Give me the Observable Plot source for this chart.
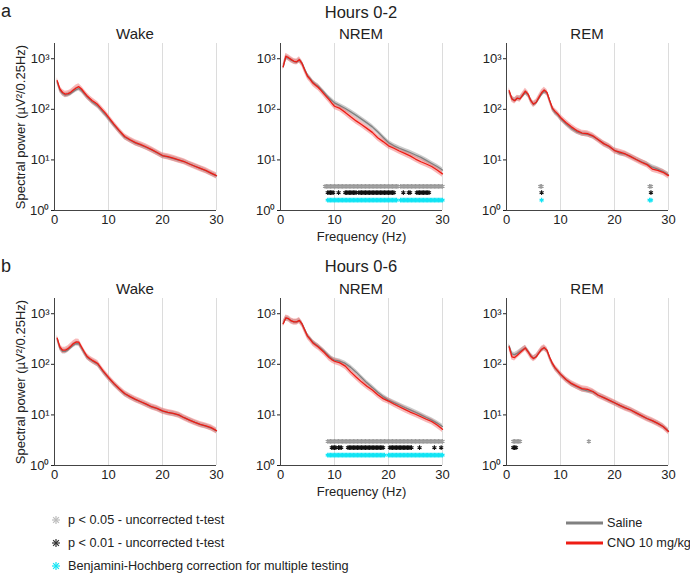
<!DOCTYPE html>
<html>
<head>
<meta charset="utf-8">
<script src="https://cdn.jsdelivr.net/npm/d3@7"></script>
<script src="https://cdn.jsdelivr.net/npm/@observablehq/plot@0.6"></script>
<style>
  body { margin: 0; background: white; font-family: "Liberation Sans", Arial, sans-serif; color: #222; }
  #fig { position: relative; width: 690px; height: 574px; overflow: hidden; }
  .abs { position: absolute; white-space: nowrap; line-height: 1; }
  .ctr { transform: translate(-50%, -50%); }
  .leg { position: absolute; font-size: 12.7px; display: flex; align-items: center; white-space: nowrap; }
</style>
</head>
<body>
<div id="fig"></div>
<script>
// ---------- data ----------
const freqHz = [0.5,1,1.5,2,2.5,3,3.5,4,4.5,5,5.5,6,6.5,7,7.5,8,8.5,9,9.5,10,
  11,12,13,14,15,16,17,18,19,20,21,22,23,24,25,26,27,28,29,30];

// Hours 0-2
const wake02Saline = [350,240,205,190,195,205,225,245,258,235,205,178,158,140,128,116,102,88,77,66,
  49,37,28,24.5,21.5,19.5,17.6,15.7,13.8,12,11.4,10.6,9.9,9.2,8.3,7.5,6.8,6.1,5.4,4.8];
const wake02CNO = [370,252,215,200,205,217,240,264,280,252,215,186,165,148,136,124,108,94,82,70,
  51,38,29,25,22,20,18,16,14,12.2,11.6,10.8,10,9.3,8.3,7.5,6.8,6.2,5.5,4.9];
const nrem02Saline = [700,1080,1020,940,880,860,930,820,610,470,405,345,310,285,250,220,190,168,150,134,
  118,104,89,76,64,54,45,36,28,22,19,17,15.4,14,12.5,11.2,9.8,8.5,7.4,6.3];
const nrem02CNO = [690,1120,1050,960,890,870,960,800,590,450,390,330,298,270,237,205,178,155,133,115,
  104,87,71,59,50,42,35,27.5,23,19,17,15,13.5,12,10.4,9.2,8.3,7.4,6.3,5.3];
const rem02Saline = [220,165,150,165,165,185,215,195,150,125,135,165,200,225,210,150,102,86,77,66,
  52,42,36,33,32,29,25,21,18.3,15.5,13.5,13,11.7,10.3,9.2,8.3,7.2,6.6,5.9,5.1];
const rem02CNO = [234,160,148,167,160,192,228,200,148,127,138,172,213,240,215,148,106,91,81,69,
  55,45,38,34,33,30,25,21,18.6,15.3,14.2,13.1,11.6,10.2,9,8.1,6.6,6.2,5.7,4.9];

// Hours 0-6
const wake06Saline = [320,210,180,180,193,215,240,258,255,210,170,140,126,116,108,100,85,72,62,54,
  41,32.5,26,22.7,20,18,16.1,14.3,13.3,11.9,11.1,10.6,9.9,8.8,7.9,7.1,6.4,6,5.5,4.8];
const wake06CNO = [330,220,190,190,204,228,257,277,275,220,177,145,130,120,112,104,88,74,64,55,
  42,33,26.5,23,20.3,18.2,16.3,14.5,13.5,12,11.2,10.7,10,8.8,7.9,7.1,6.5,6.1,5.6,4.9];
const nrem06Saline = [650,820,790,720,690,690,730,630,480,370,320,275,250,228,205,185,163,145,130,121,
  115,104,87,70,55,43,35,28,23,19.6,17.5,15.7,14,12.6,11.3,10,8.9,7.9,6.9,5.9];
const nrem06CNO = [635,830,800,720,690,690,740,620,470,360,310,265,240,220,197,176,155,136,124,115,
  107,92,71,56,45,37,31,25,21,18.8,16.4,14.5,12.9,11.4,10.3,9.2,8.2,7.4,6.3,5.2];
const rem06Saline = [230,160,155,165,180,195,212,180,150,132,142,168,195,210,188,135,103,84,73,63,
  50,41,36,32,30,28.5,24.5,22,19.4,17.3,15.3,13.8,12.5,11,9.6,8.5,7.6,6.8,5.9,4.8];
const rem06CNO = [220,141,136,151,169,190,210,177,145,130,141,169,199,214,190,136,104,85,74,64,
  50,42,37,33,32,29,24.5,22,19.6,17.4,15.4,13.8,12.5,11,9.7,8.5,7.7,6.8,5.9,4.7];

// relative SEM (fraction of mean) for the shaded bands
const semSaline = 0.11;
const semCNO = 0.14;

// significant 0.25 Hz bins, as [first, last] frequency ranges
const nrem02P05 = [[8.25,21.75],[22.25,30]];
const nrem02P01 = [[8.75,9.75],[10.75,10.75],[12,14],[14.5,21],[22.75,22.75],[23.75,24],[25.25,27.5]];
const nrem02BH  = [[8.75,21.5],[22.25,30]];
const rem02P05 = [[6.25,6.5],[26.5,26.75]];
const rem02P01 = [[6.5,6.5],[26.75,26.75]];
const rem02BH  = [[6.5,6.5],[26.5,26.75]];
const nrem06P05 = [[8.75,30]];
const nrem06P01 = [[9.5,10.25],[10.75,11.25],[12.5,19],[20.25,24.25],[25.75,25.75],[28.5,28.5],[29.75,29.75]];
const nrem06BH  = [[8.75,19.25],[20,30]];
const rem06P05 = [[1.25,2.5],[15.25,15.25]];
const rem06P01 = [[1.25,1.75]];
const rem06BH  = [];

// marker row levels (y value)
const rowP05 = 3, rowP01 = 2.25, rowBH = 1.6;

const yTicks = [1, 10, 100, 1000];
const xTicks = [0, 10, 20, 30];

// ---------- drawing ----------
const colSaline = "#808080", colCNO = "#ee1c14";
const bandSaline = "#a0a0a0", bandCNO = "#f27272";
const colP05 = "#9a9a9a", colP01 = "#111111", colBH = "#12e4f4";
const sup = {0: "\u2070", 1: "\u00b9", 2: "\u00b2", 3: "\u00b3"};
const FONT = "'Liberation Sans', Arial, sans-serif";

function bins(ranges) {
  const out = [];
  for (const [a, b] of ranges) for (let f = a; f <= b + 1e-9; f += 0.25) out.push(f);
  return out;
}

const fig = document.getElementById("fig");

function panel({sal, cno, p05 = [], p01 = [], bh = [], ylabel = false, xlabel = false, left, top}) {
  const rows = freqHz.map((f, i) => ({f, sal: sal[i], cno: cno[i]}));
  const plot = Plot.plot({
    width: 219, height: 212,
    marginLeft: 45, marginTop: 10, marginRight: 12, marginBottom: 35,
    style: {fontSize: "13px", fontFamily: FONT, color: "#222", background: "transparent", overflow: "visible"},
    x: {domain: [0, 30], ticks: xTicks, tickSize: 0, tickPadding: 4,
        label: xlabel ? "Frequency (Hz)" : null, labelAnchor: "center", labelArrow: "none", labelOffset: 30},
    y: {type: "log", domain: [1, 2000], ticks: yTicks, tickSize: 3, tickPadding: 2,
        tickFormat: d => "10" + sup[Math.round(Math.log10(d))],
        label: ylabel ? "Spectral power (\u00b5V\u00b2/0.25Hz)" : null, labelAnchor: "center", labelArrow: "none", labelOffset: 39},
    marks: [
      Plot.ruleX([10, 20, 30], {stroke: "#dcdcdc", strokeWidth: 1}),
      Plot.areaY(rows, {x: "f", y1: d => d.sal * (1 - semSaline), y2: d => d.sal * (1 + semSaline), fill: bandSaline, fillOpacity: 0.55}),
      Plot.areaY(rows, {x: "f", y1: d => d.cno * (1 - semCNO), y2: d => d.cno * (1 + semCNO), fill: bandCNO, fillOpacity: 0.5}),
      Plot.lineY(rows, {x: "f", y: "sal", stroke: colSaline, strokeWidth: 1.3}),
      Plot.lineY(rows, {x: "f", y: "cno", stroke: colCNO, strokeWidth: 1.3}),
      Plot.dot(bins(p05), {x: d => d, y: rowP05, symbol: "asterisk", r: 2.2, stroke: colP05, strokeWidth: 1.1}),
      Plot.dot(bins(p01), {x: d => d, y: rowP01, symbol: "asterisk", r: 2.2, stroke: colP01, strokeWidth: 1.1}),
      Plot.dot(bins(bh), {x: d => d, y: rowBH, symbol: "asterisk", r: 2.2, stroke: colBH, strokeWidth: 1.2}),
      Plot.ruleX([0], {stroke: "#444", strokeWidth: 1}),
      Plot.ruleY([1], {stroke: "#444", strokeWidth: 1})
    ]
  });
  plot.style.position = "absolute";
  plot.style.left = left + "px";
  plot.style.top = top + "px";
  fig.appendChild(plot);
}

const lefts = [9, 235, 461];
panel({sal: wake02Saline, cno: wake02CNO, ylabel: true, left: lefts[0], top: 33});
panel({sal: nrem02Saline, cno: nrem02CNO, p05: nrem02P05, p01: nrem02P01, bh: nrem02BH, xlabel: true, left: lefts[1], top: 33});
panel({sal: rem02Saline, cno: rem02CNO, p05: rem02P05, p01: rem02P01, bh: rem02BH, left: lefts[2], top: 33});
panel({sal: wake06Saline, cno: wake06CNO, ylabel: true, left: lefts[0], top: 288});
panel({sal: nrem06Saline, cno: nrem06CNO, p05: nrem06P05, p01: nrem06P01, bh: nrem06BH, xlabel: true, left: lefts[1], top: 288});
panel({sal: rem06Saline, cno: rem06CNO, p05: rem06P05, p01: rem06P01, bh: rem06BH, left: lefts[2], top: 288});

function label(text, x, y, size, center = true) {
  const d = document.createElement("div");
  d.className = "abs" + (center ? " ctr" : "");
  d.style.left = x + "px"; d.style.top = y + "px"; d.style.fontSize = size + "px";
  d.textContent = text;
  fig.appendChild(d);
}
label("a", 1, 2, 18, false);
label("b", 1, 257, 18, false);
label("Hours 0-2", 361, 12, 16.5);
label("Hours 0-6", 361, 266, 16.5);
const titles = ["Wake", "NREM", "REM"];
const centers = [135, 361, 587];
titles.forEach((t, i) => { label(t, centers[i], 33, 15); label(t, centers[i], 288, 15); });

// legends
function asterisk(color) {
  return `<svg width="12" height="12" style="margin-right:6px"><g stroke="${color}" stroke-width="1.2" transform="translate(6,6)">
    <line x1="-4" y1="0" x2="4" y2="0"/><line x1="0" y1="-4" x2="0" y2="4"/>
    <line x1="-2.9" y1="-2.9" x2="2.9" y2="2.9"/><line x1="-2.9" y1="2.9" x2="2.9" y2="-2.9"/></g></svg>`;
}
const sigLegend = [
  ["p < 0.05 - uncorrected t-test", "#bdbdbd"],
  ["p < 0.01 - uncorrected t-test", "#333"],
  ["Benjamini-Hochberg correction for multiple testing", colBH]
];
sigLegend.forEach(([t, c], i) => {
  const d = document.createElement("div");
  d.className = "leg";
  d.style.left = "50px"; d.style.top = (513 + i * 23) + "px";
  d.innerHTML = asterisk(c) + `<span>${t}</span>`;
  fig.appendChild(d);
});
const seriesLegend = [["Saline", colSaline], ["CNO 10 mg/kg", colCNO]];
seriesLegend.forEach(([t, c], i) => {
  const d = document.createElement("div");
  d.className = "leg";
  d.style.left = "566px"; d.style.top = (516 + i * 20) + "px";
  d.innerHTML = `<svg width="38" height="8" style="margin-right:3px"><line x1="0" y1="4" x2="37" y2="4" stroke="${c}" stroke-width="3"/></svg><span>${t}</span>`;
  fig.appendChild(d);
});
</script>
</body>
</html>
